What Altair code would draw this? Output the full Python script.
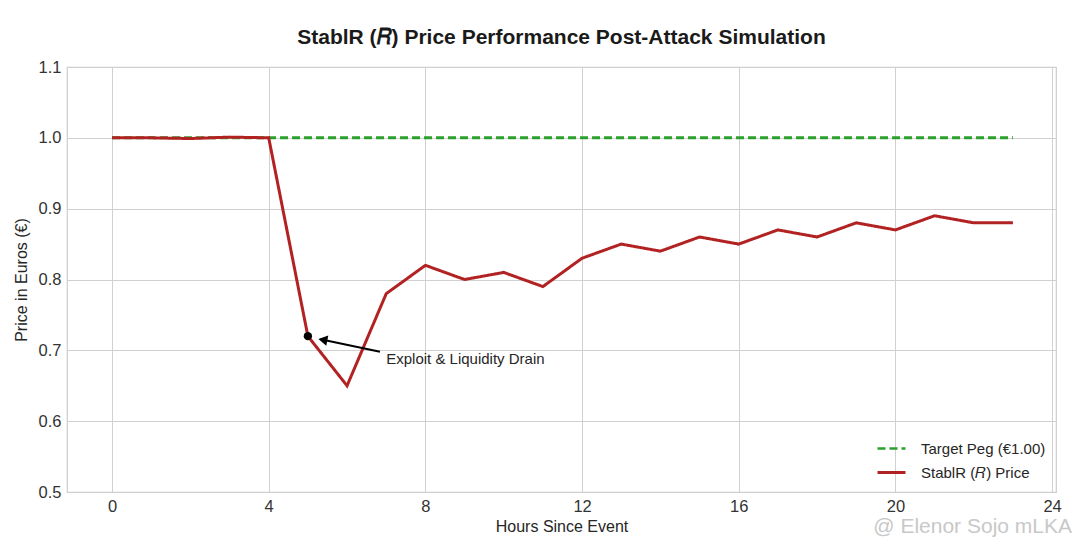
import altair as alt
import pandas as pd

hours = list(range(24))
price = [1.000, 1.000, 0.999, 1.001, 1.000, 0.72, 0.65, 0.78, 0.82, 0.80, 0.81, 0.79,
         0.83, 0.85, 0.84, 0.86, 0.85, 0.87, 0.86, 0.88, 0.87, 0.89, 0.88, 0.88]
peg = [1.0] * 24

x_ticks = [0, 4, 8, 12, 16, 20, 24]
y_ticks = [0.5, 0.6, 0.7, 0.8, 0.9, 1.0, 1.1]

peg_label = "Target Peg (€1.00)"
price_label = "StablR (\U0001D445) Price"

# annotation
ann_point_x = [5]
ann_point_y = [0.72]
arrow_tail = (6.84, 0.698)
arrow_tip = (5.17, 0.7175)
arrow_head = (5.42, 0.7145)
ann_text = "Exploit & Liquidity Drain"
ann_text_pos = (7.0, 0.688)

FONT = "Liberation Sans"

df = pd.DataFrame(
    {"hour": hours * 2,
     "value": peg + price,
     "series": [peg_label] * 24 + [price_label] * 24,
     "order": [0] * 24 + [1] * 24}
)

xscale = alt.Scale(domain=[-1.15, 24.1], nice=False, zero=False)
yscale = alt.Scale(domain=[0.5, 1.1], nice=False, zero=False)

xaxis = alt.Axis(values=x_ticks, title="Hours Since Event", format="d")
yaxis = alt.Axis(values=y_ticks, title="Price in Euros (€)", format=".1f")

lines = alt.Chart(df).mark_line(strokeWidth=3).encode(
    x=alt.X("hour:Q", scale=xscale, axis=xaxis),
    y=alt.Y("value:Q", scale=yscale, axis=yaxis),
    color=alt.Color(
        "series:N",
        scale=alt.Scale(domain=[peg_label, price_label], range=["#2ca02c", "#b22222"]),
        legend=alt.Legend(title=None, orient="none", legendX=809, legendY=366,
                          symbolType="stroke", symbolSize=784, symbolStrokeWidth=3,
                          symbolDash=[10, 6],
                          labelFont=FONT, labelFontSize=15, labelColor="#262626",
                          rowPadding=-8, labelOffset=14),
    ),
    strokeDash=alt.StrokeDash(
        "series:N",
        scale=alt.Scale(domain=[peg_label, price_label], range=[[8, 4], [1, 0]]),
        legend=None,
    ),
    strokeWidth=alt.StrokeWidth(
        "series:N",
        scale=alt.Scale(domain=[peg_label, price_label], range=[2.5, 3]),
        legend=None,
    ),
    order="order:Q",
    detail="series:N",
)

pt_df = pd.DataFrame({"hour": ann_point_x, "value": ann_point_y})
dot = alt.Chart(pt_df).mark_point(filled=True, color="black", size=70, opacity=1).encode(
    x=alt.X("hour:Q", scale=xscale), y=alt.Y("value:Q", scale=yscale)
)

arr_df = pd.DataFrame({"x": [arrow_tail[0]], "y": [arrow_tail[1]],
                       "x2": [arrow_tip[0] + 0.15], "y2": [arrow_tip[1] - 0.0018]})
arrow_line = alt.Chart(arr_df).mark_rule(color="black", strokeWidth=2).encode(
    x=alt.X("x:Q", scale=xscale), y=alt.Y("y:Q", scale=yscale), x2="x2:Q", y2="y2:Q"
)
head_df = pd.DataFrame({"x": [arrow_head[0]], "y": [arrow_head[1]]})
arrow_head_mark = alt.Chart(head_df).mark_point(
    shape="triangle", filled=True, color="black", size=110, angle=281, opacity=1
).encode(x=alt.X("x:Q", scale=xscale), y=alt.Y("y:Q", scale=yscale))

txt_df = pd.DataFrame({"x": [ann_text_pos[0]], "y": [ann_text_pos[1]], "t": [ann_text]})
ann = alt.Chart(txt_df).mark_text(
    align="left", baseline="middle", font=FONT, fontSize=15, color="#262626"
).encode(x=alt.X("x:Q", scale=xscale), y=alt.Y("y:Q", scale=yscale), text="t:N")

wm_df = pd.DataFrame({"t": ["@ Elenor Sojo mLKA"]})
watermark = alt.Chart(wm_df).mark_text(
    align="right", baseline="middle", font=FONT, fontSize=21, color="#c8c8c8"
).encode(x=alt.value(1005), y=alt.value(460), text="t:N")

chart = alt.layer(lines, dot, arrow_line, arrow_head_mark, ann, watermark).properties(
    width=989,
    height=425,
    padding={"left": 59, "top": 59, "right": 16, "bottom": 50},
    autosize=alt.AutoSizeParams(type="none"),
    title=alt.TitleParams(
        "StablR (\U0001D445) Price Performance Post-Attack Simulation",
        font=FONT, fontSize=21, fontWeight="bold", color="#1a1a1a",
        anchor="middle", offset=11,
    ),
    background="white",
).configure_view(
    stroke="#cccccc", strokeWidth=1.2
).configure_axis(
    grid=True, gridColor="#d0d0d0", gridWidth=1, domain=False, ticks=False,
    labelFont=FONT, labelFontSize=16.5, labelColor="#333333", labelPadding=6,
    titleFont=FONT, titleFontSize=16, titleColor="#262626", titleFontWeight="normal",
).configure_axisX(titlePadding=4).configure_axisY(titlePadding=9)

chart.save("out.html", embed_options={"renderer": "svg", "actions": False})
